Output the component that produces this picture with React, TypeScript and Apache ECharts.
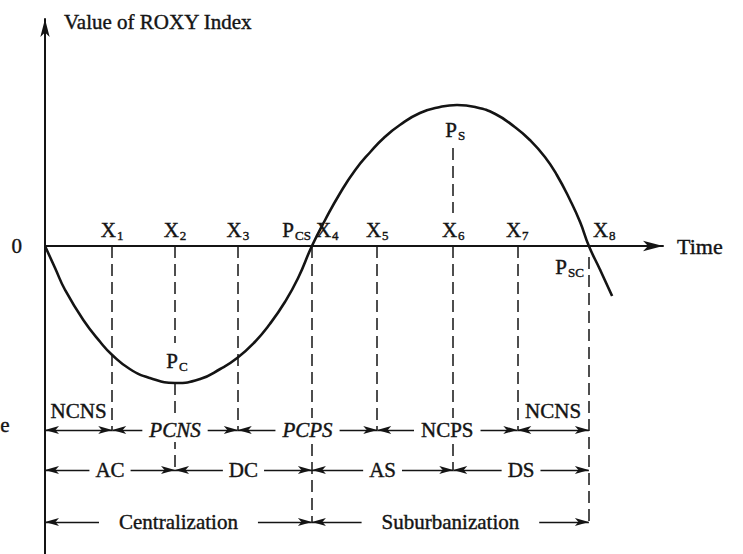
import React, { useEffect, useRef } from 'react';
import * as echarts from 'echarts';

// Curve of the ROXY index over time
const curveTime = [0, 1.6, 3.2, 6.1, 8.8, 10.7, 13.5, 16.7, 20.7, 24.7, 27.9, 30.6, 33.4, 35.8, 38.2, 40.3, 42.5, 44.6, 47.0, 49.4, 51.8, 54.1, 56.5, 59.7, 62.9, 65.6, 68.5, 71.7, 74.8, 77.2, 79.6, 81.5, 83.6, 85.2, 86.6, 88.4, 90.3];
const curveValue = [0, -2.2, -4.4, -7.4, -9.6, -10.9, -12.3, -13.2, -13.7, -13.3, -12.3, -11.2, -9.6, -7.8, -5.6, -3.2, 0, 2.6, 5.3, 7.6, 9.4, 10.9, 12.1, 13.3, 13.9, 14.1, 13.9, 13.2, 11.9, 10.6, 8.9, 7.1, 4.6, 2.4, 0, -2.4, -5.0];

// Time points X1..X8
const markSubs = ['1', '2', '3', '4', '5', '6', '7', '8'];
const markTimes = [10.7, 20.7, 30.7, 42.5, 52.9, 65.0, 75.2, 86.6];

// Dashed guide lines (segments)
const guideTimes = [10.7, 20.7, 20.7, 30.7, 42.5, 52.9, 65.0, 65.0, 75.2, 86.6];
const guideFrom = [0, 0, -13.7, 0, 0, 0, 9.8, 0, 0, -1.1];
const guideTo = [-18.4, -9.7, -22.4, -18.4, -27.6, -18.4, 3.3, -22.4, -18.4, -27.6];

// Phase rows
const rowLevels = [-18.4, -22.4, -27.6];
const row1Names = ['NCNS', 'PCNS', 'PCPS', 'NCPS', 'NCNS'];
const row1Bounds = [0, 10.7, 30.7, 52.9, 75.2, 86.6];
const row2Names = ['AC', 'DC', 'AS', 'DS'];
const row2Bounds = [0, 20.7, 42.5, 65.0, 86.6];
const row3Names = ['Centralization', 'Suburbanization'];
const row3Bounds = [0, 42.5, 86.6];

// Turning / crossing points
const pointMain = ['P', 'P', 'P', 'P'];
const pointSubs = ['C', 'S', 'CS', 'SC'];
const pointTimes = [20.7, 65.0, 42.5, 86.6];
const pointValues = [-13.7, 14.1, 0, 0];

const SERIF = '"Liberation Serif", "Times New Roman", "DejaVu Serif", serif';
const INK = '#141414';
const BORDER = { textBorderColor: INK, textBorderWidth: 0.4 };

const rich = {
  m: { fontSize: 21, lineHeight: 24, fontFamily: SERIF, color: INK, ...BORDER },
  s: { fontSize: 13, lineHeight: 13, verticalAlign: 'bottom', fontFamily: SERIF, color: INK, padding: [0, 0, 0, 1], ...BORDER },
};

function rowSeries(names: string[], bounds: number[], level: number, pad: number) {
  return {
    type: 'line',
    data: [],
    silent: true,
    markLine: {
      silent: true,
      animation: false,
      symbol: ['arrow', 'arrow'],
      symbolSize: [6, 14],
      lineStyle: { color: INK, width: 1.3, type: 'solid' },
      label: {
        show: true,
        position: 'middle',
        distance: 0,
        verticalAlign: 'middle',
        formatter: '{b}',
        fontFamily: SERIF,
        fontSize: 21,
        lineHeight: 24,
        color: INK,
        ...BORDER,
        backgroundColor: '#fff',
        padding: [0, pad],
      },
      data: names.map((n, i) => {
        const edge = n === 'NCNS';
        const italic = n === 'PCNS' || n === 'PCPS';
        const label = edge
          ? { position: 'insideMiddleTop', verticalAlign: 'bottom', backgroundColor: 'transparent', padding: 0, distance: 7 }
          : { fontStyle: italic ? 'italic' : 'normal' };
        return [
          { coord: [bounds[i], level], name: n, label },
          { coord: [bounds[i + 1], level] },
        ];
      }),
    },
  };
}

export default function App() {
  const ref = useRef<HTMLDivElement>(null);
  useEffect(() => {
    if (!ref.current) return;
    const chart = echarts.init(ref.current, null, { renderer: 'svg' });

    const markLabels = markSubs.map((s, i) => {
      const leftAligned = i === 3 || i === 7;
      return {
        value: [markTimes[i], 0],
        label: {
          show: true,
          position: 'top',
          distance: 4,
          color: INK,
          align: leftAligned ? 'left' : 'center',
          offset: leftAligned ? [4, 0] : [0, 0],
          formatter: `{m|X}{s|${s}}`,
          rich,
        },
      };
    });

    const pointLabelStyle = [
      { position: 'top', distance: 10, align: 'center', offset: [2, 0] },
      { position: 'bottom', distance: 13, align: 'center', offset: [2, 0] },
      { position: 'top', distance: 4, align: 'right', offset: [-1, 0] },
      { position: 'bottom', distance: 9, align: 'right', offset: [-5, 0] },
    ];
    const pointLabels = pointMain.map((m, i) => ({
      value: [pointTimes[i], pointValues[i]],
      label: { show: true, color: INK, formatter: `{m|${m}}{s|${pointSubs[i]}}`, rich, ...pointLabelStyle[i] },
    }));

    chart.setOption({
      animation: false,
      backgroundColor: '#fff',
      title: {
        text: 'Value of ROXY Index',
        left: 64,
        top: 11,
        padding: 0,
        textStyle: { fontSize: 21, fontWeight: 'normal', fontFamily: SERIF, color: INK, ...BORDER },
      },
      grid: { left: 45, right: 80, top: 19, bottom: 0, containLabel: false },
      xAxis: {
        type: 'value',
        min: 0,
        max: 98.4,
        name: 'Time',
        nameLocation: 'end',
        nameGap: 14,
        nameTextStyle: { fontSize: 22, fontFamily: SERIF, color: INK, ...BORDER, verticalAlign: 'middle', padding: [6, 0, 0, 0] },
        axisLine: { show: true, onZero: true, symbol: ['none', 'arrow'], symbolSize: [8, 20], lineStyle: { color: INK, width: 2 } },
        axisTick: { show: false },
        axisLabel: { show: false },
        splitLine: { show: false },
      },
      yAxis: {
        type: 'value',
        min: -30.8,
        max: 22.7,
        axisLine: { show: true, onZero: true, symbol: ['none', 'arrow'], symbolSize: [7, 18], lineStyle: { color: INK, width: 2 } },
        axisTick: { show: false },
        axisLabel: { show: true, customValues: [0], margin: 23, fontSize: 21, fontFamily: SERIF, color: INK, ...BORDER },
        splitLine: { show: false },
      },
      graphic: [
        { type: 'text', left: 0, top: 414, style: { text: 'e', font: `21px ${SERIF}`, fill: INK, stroke: INK, lineWidth: 0.4 } },
      ],
      series: [
        {
          type: 'lines',
          coordinateSystem: 'cartesian2d',
          silent: true,
          lineStyle: { color: INK, width: 1.5, type: [12, 6], opacity: 1 },
          data: guideTimes.map((t, i) => ({ coords: [[t, guideFrom[i]], [t, guideTo[i]]] })),
        },
        {
          type: 'line',
          smooth: 0.5,
          showSymbol: false,
          silent: true,
          lineStyle: { color: INK, width: 2.6 },
          data: curveTime.map((t, i) => [t, curveValue[i]]),
        },
        rowSeries(row1Names, row1Bounds, rowLevels[0], 7),
        rowSeries(row2Names, row2Bounds, rowLevels[1], 6),
        rowSeries(row3Names, row3Bounds, rowLevels[2], 20),
        {
          type: 'scatter',
          symbolSize: 0,
          silent: true,
          itemStyle: { color: INK, opacity: 1 },
          data: [...markLabels, ...pointLabels],
        },
      ],
    });
    return () => chart.dispose();
  }, []);
  return (
    <div
      ref={ref}
      style={{ position: 'fixed', left: 0, top: 0, width: 743, height: 554, background: '#fff' }}
    />
  );
}
